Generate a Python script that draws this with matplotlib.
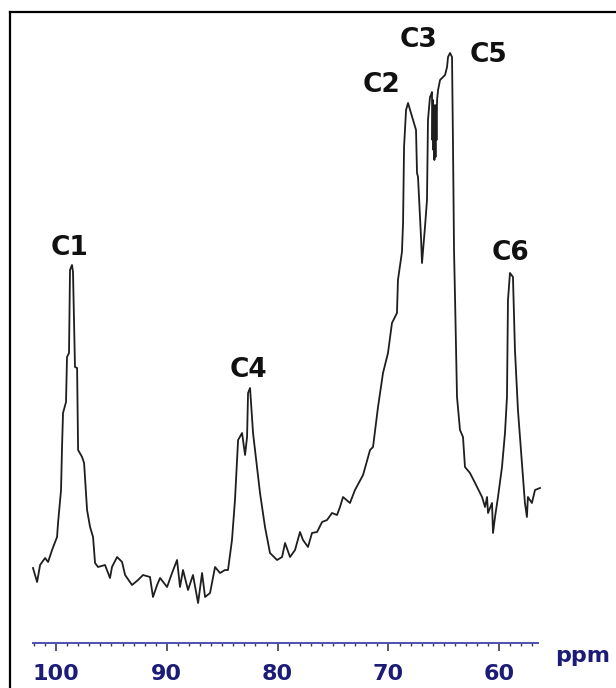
import numpy as np
from matplotlib import pyplot as plt
from matplotlib.lines import Line2D
from matplotlib.ticker import MultipleLocator

# chemical shift (ppm) and intensity (a.u.)
ppm = [102.08, 101.71, 101.44, 100.99, 100.72, 100.36, 99.91, 99.82, 99.55, 99.46,
       99.37, 99.10, 99.01, 98.83, 98.74, 98.56, 98.47, 98.29, 98.10, 98.01,
       97.65, 97.47, 97.20, 96.93, 96.66, 96.48, 96.21, 95.58, 95.13, 94.95,
       94.49, 94.04, 93.77, 93.14, 92.60, 92.15, 91.52, 91.25, 90.88, 90.61,
       89.98, 89.53, 89.08, 88.81, 88.54, 88.09, 87.64, 87.18, 86.82, 86.55,
       86.10, 85.65, 85.20, 84.75, 84.48, 84.12, 83.85, 83.57, 83.21, 82.94,
       82.76, 82.67, 82.49, 82.22, 81.86, 81.59, 81.14, 80.69, 80.05, 79.60,
       79.33, 78.88, 78.43, 77.98, 77.71, 77.26, 76.90, 76.44, 75.99, 75.54,
       75.09, 74.64, 74.37, 74.10, 73.47, 73.02, 72.29, 71.66, 71.39, 70.94,
       70.49, 70.04, 69.68, 69.23, 69.14, 68.78, 68.68, 68.59, 68.41, 68.23,
       67.78, 67.51, 67.42, 67.33, 67.06, 66.97, 66.70, 66.52, 66.43, 66.25,
       66.16, 66.07, 66.03, 65.98, 65.94, 65.89, 65.85, 65.80, 65.75, 65.71,
       65.66, 65.61, 65.52, 65.34, 65.07, 64.89, 64.71, 64.62, 64.44, 64.26,
       64.17, 64.08, 63.99, 63.81, 63.54, 63.27, 63.09, 62.64, 62.18, 61.55,
       61.28, 61.10, 61.01, 60.65, 60.56, 60.38, 60.11, 59.75, 59.48, 59.30,
       59.21, 59.03, 58.76, 58.58, 58.31, 58.13, 57.86, 57.68, 57.50, 57.41,
       57.05, 56.77, 56.32]
intensity = [42, 28, 45, 52, 48, 60, 73, 87, 120, 163,
             197, 208, 253, 257, 340, 345, 338, 243, 242, 160,
             153, 147, 100, 83, 73, 47, 43, 45, 32, 43,
             53, 48, 35, 25, 30, 35, 33, 13, 25, 32,
             23, 37, 50, 23, 40, 20, 35, 7, 37, 13,
             17, 43, 37, 40, 40, 70, 110, 170, 177, 155,
             173, 217, 222, 177, 143, 117, 83, 57, 50, 53,
             67, 53, 60, 78, 70, 63, 77, 78, 88, 90,
             97, 95, 103, 113, 107, 120, 135, 160, 163, 203,
             237, 257, 287, 297, 330, 358, 387, 463, 500, 507,
             490, 480, 437, 433, 373, 347, 383, 410, 490, 513,
             515, 518, 470, 510, 460, 505, 450, 500, 453, 505,
             470, 510, 520, 530, 533, 535, 543, 553, 557, 553,
             463, 360, 313, 213, 180, 173, 143, 137, 127, 113,
             103, 113, 97, 107, 77, 93, 113, 143, 177, 213,
             310, 337, 333, 260, 200, 173, 133, 107, 93, 113,
             107, 120, 122]

peak_labels = ['C1', 'C2', 'C3', 'C4', 'C5', 'C6']
label_ppm = [98.74, 70.67, 67.33, 82.67, 61.01, 58.94]
label_int = [355, 518, 563, 233, 548, 350]

W, H = 616, 688
fig = plt.figure(figsize=(W / 100, H / 100), dpi=100)
ax = fig.add_axes([33 / W, 1 - 643 / H, (538 - 33) / W, (643 - 12) / H])

ax.plot(ppm, intensity, color='#1e1e1e', lw=1.3, clip_on=False)

for lab, x, y in zip(peak_labels, label_ppm, label_int):
    ax.text(x, y, lab, ha='center', va='baseline', fontsize=19,
            fontweight='bold', color='#111111')

ax.set_xlim(102.08, 56.5)
ax.set_ylim(-33, 598)

for s in ['top', 'left', 'right']:
    ax.spines[s].set_visible(False)
ax.spines['bottom'].set_color('#4f4fb0')
ax.spines['bottom'].set_linewidth(1.4)
ax.set_yticks([])
ax.xaxis.set_major_locator(MultipleLocator(10))
ax.xaxis.set_minor_locator(MultipleLocator(1))
ax.tick_params(axis='x', which='major', direction='out', length=6, width=1.2,
               color='#3a3a5a', pad=9, labelsize=16, labelcolor='#1c1c78')
ax.tick_params(axis='x', which='minor', direction='out', length=2.2, width=1,
               color='#3a3a5a')
for t in ax.get_xticklabels():
    t.set_fontweight('bold')
ax.patch.set_visible(False)

fig.text(555 / W, 1 - 662 / H, 'ppm', ha='left', va='baseline', fontsize=16,
         fontweight='bold', color='#1c1c78')

# frame around the figure (top and left edges visible)
fig.add_artist(Line2D([10 / W, 10 / W], [0, 1 - 12 / H], color='black', lw=1.6))
fig.add_artist(Line2D([10 / W, 1], [1 - 12 / H, 1 - 12 / H], color='black', lw=1.6))

fig.savefig('out.png', dpi=100)
